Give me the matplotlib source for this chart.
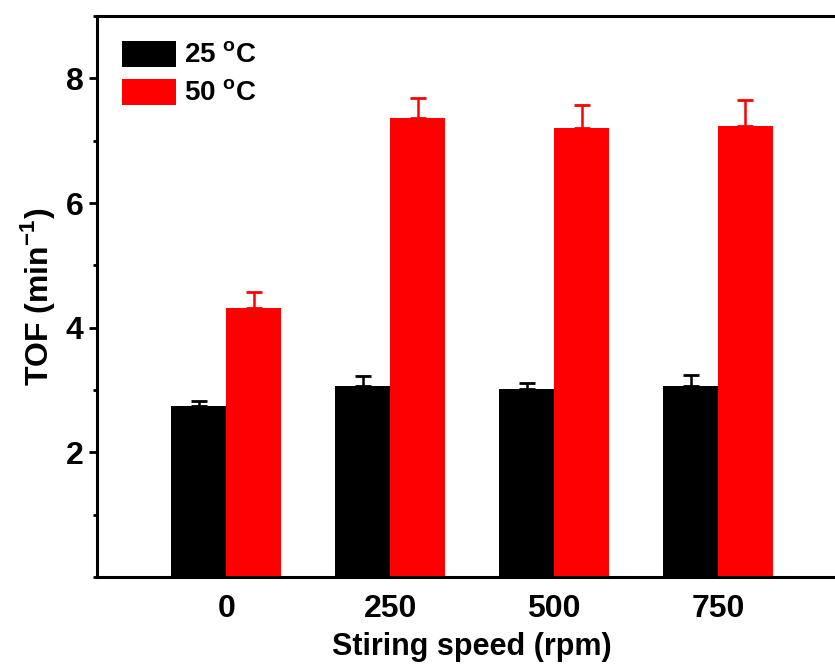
import numpy as np
import matplotlib
matplotlib.use("Agg")
import matplotlib.pyplot as plt
from matplotlib.ticker import MultipleLocator

plt.rcParams['font.family'] = 'Liberation Sans'
plt.rcParams['font.weight'] = 'bold'
plt.rcParams['mathtext.fontset'] = 'custom'
plt.rcParams['mathtext.rm'] = 'Liberation Sans:bold'
plt.rcParams['mathtext.bf'] = 'Liberation Sans:bold'

speeds = ["0", "250", "500", "750"]
tof_25 = [2.74, 3.07, 3.02, 3.07]
err_25 = [0.09, 0.15, 0.10, 0.18]
tof_50 = [4.32, 7.36, 7.21, 7.24]
err_50 = [0.26, 0.32, 0.37, 0.41]

fig = plt.figure(figsize=(8.35, 6.65), dpi=100)
ax = fig.add_axes([0.116, 0.132, 0.899, 0.844])

x = np.arange(len(speeds))
w = 0.335
ax.bar(x - w/2, tof_25, w, color='black', label='25 $^\\mathrm{o}$C',
       yerr=[np.zeros(4), err_25], error_kw=dict(ecolor='black', capsize=6, elinewidth=1.8, capthick=2))
ax.bar(x + w/2, tof_50, w, color='#ff0000', label='50 $^\\mathrm{o}$C',
       yerr=[np.zeros(4), err_50], error_kw=dict(ecolor='#ff0000', capsize=6, elinewidth=1.8, capthick=2))

ax.set_xlim(-0.79, 3.79)
ax.set_ylim(0, 9)
ax.set_xticks(x)
ax.set_xticklabels(speeds)
ax.set_yticks([2, 4, 6, 8])
ax.yaxis.set_minor_locator(MultipleLocator(1))
ax.tick_params(axis='x', length=0, labelsize=23, pad=12)
ax.tick_params(axis='y', which='major', direction='out', length=6, width=2, labelsize=23)
ax.tick_params(axis='y', which='minor', direction='out', length=3, width=2)
for s in ax.spines.values():
    s.set_linewidth(2.2)

ax.set_xlabel('Stiring speed (rpm)', fontsize=22, fontweight='bold', labelpad=6)
ax.set_ylabel('TOF (min$^{\\mathbf{-1}}$)', fontsize=23, fontweight='bold', labelpad=6)

ax.legend(loc='upper left', frameon=False, fontsize=20, handlelength=1.95, handleheight=1.05,
          handletextpad=0.3, labelspacing=0.35, borderaxespad=0.5)

fig.savefig('out.png', dpi=100)
